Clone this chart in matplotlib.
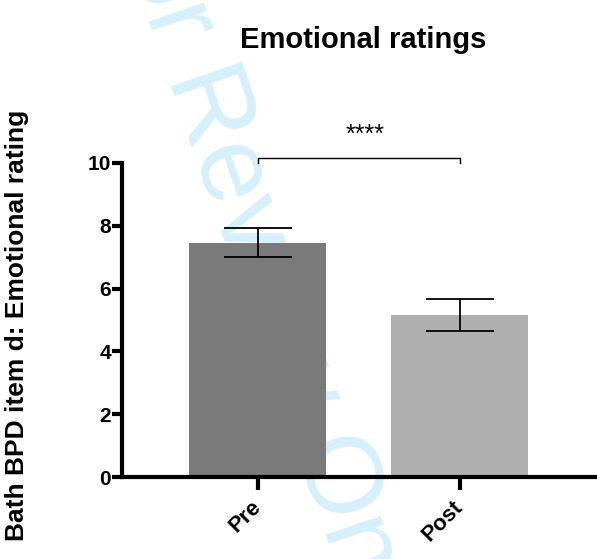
import matplotlib
matplotlib.use("Agg")
import matplotlib.pyplot as plt

# Data
categories = ["Pre", "Post"]
means = [7.46, 5.16]
sems = [0.47, 0.50]
bar_colors = ["#7a7a7a", "#b0b0b1"]
y_ticks = [0, 2, 4, 6, 8, 10]
sig_label = "****"

plt.rcParams['font.family'] = ['Liberation Sans', 'DejaVu Sans']

fig = plt.figure(figsize=(5.97, 5.59), dpi=100)
fig.patch.set_facecolor("white")

# watermark behind chart
fig.text(0.4397, 0.522, "For Review Only", fontsize=79, color="#d5effb",
         rotation=-71, ha="center", va="center", zorder=-1)

ax = fig.add_axes([0.2044, 0.1461, 0.7956, 0.5628])
ax.patch.set_visible(False)

x = list(range(len(categories)))
ax.bar(x, means, width=0.675, color=bar_colors, zorder=2)
ax.errorbar(x, means, yerr=sems, fmt="none", ecolor="black", elinewidth=1.3,
            capsize=24.5, capthick=1.3, zorder=3)

ax.set_xlim(-0.671, 1.68)
ax.set_ylim(0, 10)
ax.set_yticks(y_ticks)
ax.set_yticklabels([str(t) for t in y_ticks], fontsize=15, fontweight="bold")
ax.set_xticks(x)
ax.set_xticklabels(categories, fontsize=16, fontweight="bold", rotation=45,
                   ha="right", va="center", rotation_mode="anchor")

for s in ["top", "right"]:
    ax.spines[s].set_visible(False)
for s in ["left", "bottom"]:
    ax.spines[s].set_linewidth(3)
ax.tick_params(axis="y", direction="out", length=7, width=3, pad=1)
ax.tick_params(axis="x", direction="out", length=9, width=3, pad=10)

# significance bracket
ax.plot([0, 0, 1, 1], [9.98, 10.16, 10.16, 9.98], color="black", lw=1,
        clip_on=False)
ax.text(0.53, 10.88, sig_label, ha="center", va="center", fontsize=18)

fig.text(0.609, 0.928, "Emotional ratings", fontsize=21, fontweight="bold",
         ha="center", va="center")
fig.text(0.0285, 0.4186, "Bath BPD item d: Emotional rating", fontsize=19,
         fontweight="bold", rotation=90, ha="center", va="center")

fig.savefig("out.png", dpi=100)
